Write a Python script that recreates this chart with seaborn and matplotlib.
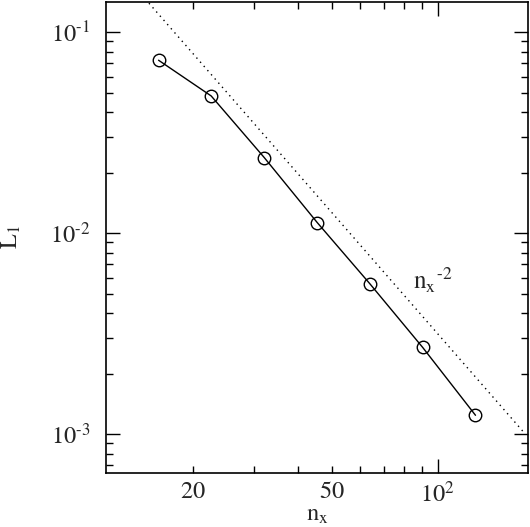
import numpy as np
import matplotlib
matplotlib.use("Agg")
import matplotlib.pyplot as plt
import matplotlib.ticker as mticker
import seaborn as sns

# grid resolution vs L1 error
nx = [16, 22.6, 32, 45.3, 64, 90.5, 128]
l1 = [0.0726, 0.0482, 0.0238, 0.0113, 0.0056, 0.0027, 0.00124]

# reference slope line  C * nx^-2
ref_nx = [11.3, 175]
ref_coef = 31.5
ref_l1 = [ref_coef / v ** 2 for v in ref_nx]

sns.set_style("ticks")
plt.rcParams["font.family"] = ["STIXGeneral", "Liberation Serif", "DejaVu Serif"]
plt.rcParams["mathtext.fontset"] = "stix"

FS = 17.5

fig = plt.figure(figsize=(5.3, 5.27), dpi=100)
ax = fig.add_axes([0.1994, 0.1025, 0.7974, 0.8937])

sns.lineplot(x=ref_nx, y=ref_l1, ax=ax, color="black", linestyle=(0, (1, 3)),
             linewidth=1.0)
sns.lineplot(x=nx, y=l1, ax=ax, color="black", linewidth=1.0, marker="o",
             markersize=9, markerfacecolor="none", markeredgecolor="black",
             markeredgewidth=1.0)

ax.set_xscale("log")
ax.set_yscale("log")
ax.set_xlim(11.31, 181)
ax.set_ylim(6.4e-4, 0.1415)

ax.xaxis.set_major_locator(mticker.LogLocator(base=10))
ax.xaxis.set_minor_locator(mticker.LogLocator(base=10, subs=np.arange(2, 10)))
ax.yaxis.set_major_locator(mticker.LogLocator(base=10))
ax.yaxis.set_minor_locator(mticker.LogLocator(base=10, subs=np.arange(2, 10)))

def major_fmt(v, pos):
    # hyphen instead of the long math minus, like the original
    return r"$\mathrm{10^{\text{%d}}}$" % round(np.log10(v))

def minor_x_fmt(v, pos):
    if abs(v - 20) < 1e-6 or abs(v - 50) < 1e-6:
        return r"$\mathrm{%d}$" % round(v)
    return ""

ax.xaxis.set_major_formatter(mticker.FuncFormatter(major_fmt))
ax.yaxis.set_major_formatter(mticker.FuncFormatter(major_fmt))
ax.xaxis.set_minor_formatter(mticker.FuncFormatter(minor_x_fmt))
ax.yaxis.set_minor_formatter(mticker.NullFormatter())

ax.tick_params(which="both", direction="in", top=True, right=True,
               labelsize=FS, width=1.0, color="black")
ax.tick_params(which="major", length=10)
ax.tick_params(which="minor", length=5)
ax.tick_params(axis="x", which="both", pad=6)
ax.tick_params(axis="y", which="both", pad=11)

for s in ax.spines.values():
    s.set_linewidth(1.2)
    s.set_color("black")

ax.set_xlabel(r"$\mathrm{n_x}$", fontsize=FS)
ax.set_ylabel(r"$\mathrm{L_1}$", fontsize=FS)
ax.xaxis.set_label_coords(0.5, -0.068)
ax.yaxis.set_label_coords(-0.196, 0.5)
ax.text(85, 0.0058, r"$\mathrm{n_x{}^{\text{-2}}}$", fontsize=FS + 0.5,
        va="center", ha="left")

fig.savefig("out.png", dpi=100)
